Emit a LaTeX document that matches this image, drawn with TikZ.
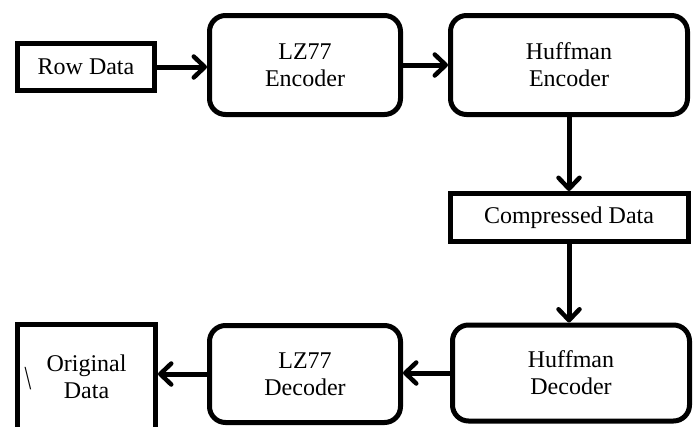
\documentclass[tikz,border=0pt]{standalone}
\usepackage{fontspec}
\usepackage{graphicx}
\setmainfont{Liberation Serif}
\usetikzlibrary{arrows.meta}
\begin{document}
\begin{tikzpicture}[x=1pt,y=-1pt,
  every node/.style={font=\fontsize{24}{27}\selectfont, align=center, inner sep=0pt},
  sqbox/.style={draw, line width=5pt},
  rbox/.style={draw, line width=5pt, rounded corners=16pt},
  conn/.style={line width=5pt, -{Straight Barb[length=11pt,width=21pt,line width=4.5pt,round]}}]
\useasboundingbox (0,0) rectangle (699,426);
\node[sqbox, minimum width=137pt, minimum height=47pt] (rd) at (86,67) {Row Data};
\node[rbox, minimum width=191pt, minimum height=99pt] (le) at (305,65) {LZ77\\Encoder};
\node[rbox, minimum width=237pt, minimum height=99pt] (he) at (569,65) {Huffman\\Encoder};
\node[sqbox, minimum width=238pt, minimum height=48pt] (cd) at (569,217.5) {Compressed Data};
\node[rbox, minimum width=237pt, minimum height=96pt] (hd) at (571,373) {Huffman\\Decoder};
\node[rbox, minimum width=191pt, minimum height=97pt] (ld) at (305,374) {LZ77\\Decoder};
\node[sqbox, minimum width=138pt, minimum height=106pt] (od) at (86.5,377) {Original\\Data};
\node (bs) at (28,379) {\scalebox{1}[1.4]{\textbackslash}};
\draw[conn] (rd.east) -- (rd.east -| le.west);
\draw[conn] (le.east) -- (he.west);
\draw[conn] (he.south) -- (he.south |- cd.north);
\draw[conn] (cd.south) -- (cd.south |- hd.north);
\draw[conn] (hd.west) -- (hd.west -| ld.east);
\draw[conn] (ld.west) -- (ld.west -| od.east);
\end{tikzpicture}
\end{document}
